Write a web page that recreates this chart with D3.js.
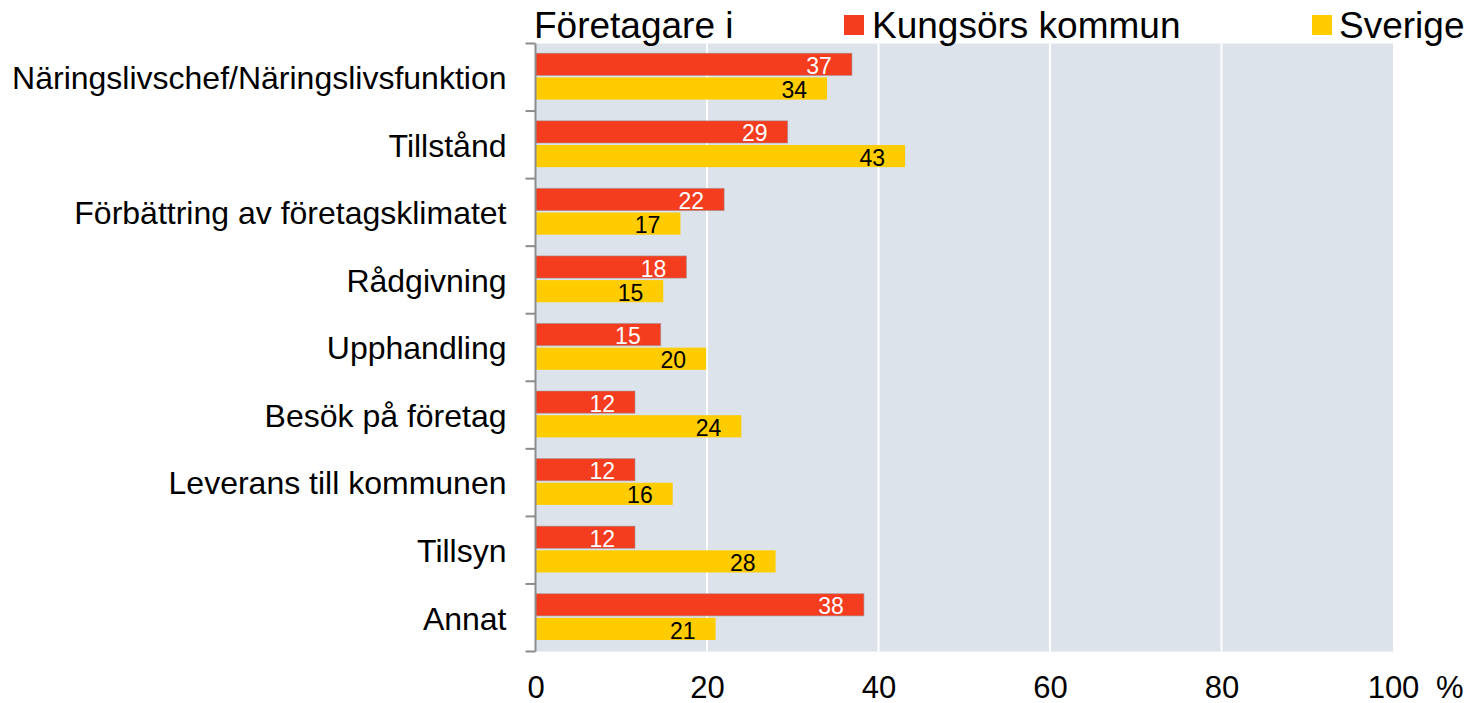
<!DOCTYPE html>
<html>
<head>
<meta charset="utf-8">
<script src="https://cdn.jsdelivr.net/npm/d3@7"></script>
<style>
  html, body { margin: 0; padding: 0; background: #fff; }
  svg { display: block; font-family: "Liberation Sans", Arial, Helvetica, sans-serif; }
</style>
</head>
<body>
<svg id="chart" width="1469" height="703"></svg>
<script>
const categories = [
  "Näringslivschef/Näringslivsfunktion",
  "Tillstånd",
  "Förbättring av företagsklimatet",
  "Rådgivning",
  "Upphandling",
  "Besök på företag",
  "Leverans till kommunen",
  "Tillsyn",
  "Annat"
];
const seriesNames = ["Kungsörs kommun", "Sverige"];
const kungsorValues = [36.9, 29.4, 22.0, 17.6, 14.6, 11.6, 11.6, 11.6, 38.3];
const sverigeValues = [34.0, 43.1, 16.9, 14.9, 19.9, 24.0, 16.0, 28.0, 21.0];
const xTicks = [0, 20, 40, 60, 80, 100];
const legendTitle = "Företagare i";
const unitLabel = "%";

(function () {
const colors = { "Kungsörs kommun": "#f43c1f", "Sverige": "#ffcc00" };
const labelColors = { "Kungsörs kommun": "#ffffff", "Sverige": "#000000" };

const rows = categories.map((c, i) => ({
  category: c,
  values: [
    { series: seriesNames[0], value: kungsorValues[i] },
    { series: seriesNames[1], value: sverigeValues[i] }
  ]
}));

const svg = d3.select("#chart");
const pLeft = 535.5, pRight = 1393, pTop = 43.5, pBottom = 651.5;

const x = d3.scaleLinear().domain([0, 100]).range([pLeft, pRight]);
const y = d3.scaleBand().domain(categories).range([pTop, pBottom]).padding(0);
const ys = d3.scaleBand().domain(seriesNames).range([0, y.bandwidth()])
  .paddingInner(0.083).paddingOuter(0.44).align(0.46);

// plot background
svg.append("rect")
  .attr("x", x(0)).attr("y", pTop)
  .attr("width", x(100) - x(0)).attr("height", pBottom - pTop)
  .attr("fill", "#dce3ea");

// gridlines
svg.append("g").selectAll("line")
  .data(xTicks.filter(t => t > 0 && t < 100))
  .join("line")
  .attr("x1", d => x(d)).attr("x2", d => x(d))
  .attr("y1", pTop).attr("y2", pBottom)
  .attr("stroke", "#ffffff").attr("stroke-width", 2);

// bars
const groups = svg.append("g").selectAll("g")
  .data(rows).join("g")
  .attr("transform", d => `translate(0,${y(d.category)})`);

groups.selectAll("rect")
  .data(d => d.values).join("rect")
  .attr("x", x(0))
  .attr("y", d => ys(d.series))
  .attr("width", d => x(d.value) - x(0))
  .attr("height", ys.bandwidth())
  .attr("fill", d => colors[d.series])
  .attr("stroke", d => d.series === seriesNames[0] ? "rgba(160,140,140,0.55)" : "none")
  .attr("stroke-width", 1);

groups.selectAll("text")
  .data(d => d.values).join("text")
  .attr("x", d => x(d.value) - 20)
  .attr("y", d => ys(d.series) + ys.bandwidth() - 1.5)
  .attr("text-anchor", "end")
  .attr("font-size", 23)
  .attr("fill", d => labelColors[d.series])
  .text(d => Math.round(d.value));

// left axis line and ticks at band boundaries
const boundaries = categories.map(c => y(c)).concat([y.range()[1]]);
const axisG = svg.append("g");
axisG.append("line")
  .attr("x1", x(0)).attr("x2", x(0))
  .attr("y1", pTop).attr("y2", pBottom)
  .attr("stroke", "#8c8c8c").attr("stroke-width", 2);
axisG.selectAll("line.tick")
  .data(boundaries).join("line")
  .attr("class", "tick")
  .attr("x1", x(0) - 10).attr("x2", x(0))
  .attr("y1", d => d).attr("y2", d => d)
  .attr("stroke", "#8c8c8c").attr("stroke-width", 2);

// category labels
svg.append("g").selectAll("text")
  .data(categories).join("text")
  .attr("x", x(0) - 29)
  .attr("y", d => y(d) + y.bandwidth() / 2)
  .attr("dy", "0.37em")
  .attr("text-anchor", "end")
  .attr("font-size", 32)
  .attr("fill", "#000")
  .text(d => d);

// bottom axis
const xAxis = svg.append("g")
  .attr("transform", `translate(0,${pBottom})`)
  .call(d3.axisBottom(x).tickValues(xTicks).tickSize(0).tickFormat(d3.format("d")));
xAxis.select(".domain").remove();
xAxis.selectAll("text")
  .attr("y", 46).attr("dy", 0)
  .attr("font-size", 31)
  .attr("font-family", "Liberation Sans, Arial, sans-serif")
  .attr("fill", "#000");

svg.append("text")
  .attr("x", 1436).attr("y", pBottom + 46)
  .attr("font-size", 31).attr("fill", "#000")
  .text(unitLabel);

// legend
svg.append("text")
  .attr("x", 534).attr("y", 38)
  .attr("font-size", 37).attr("fill", "#000")
  .text(legendTitle);

const legendItems = [
  { name: seriesNames[0], sx: 844, tx: 872 },
  { name: seriesNames[1], sx: 1312, tx: 1339 }
];
const lg = svg.append("g").selectAll("g").data(legendItems).join("g");
lg.append("rect")
  .attr("x", d => d.sx).attr("y", 15)
  .attr("width", 20).attr("height", 20)
  .attr("fill", d => colors[d.name]);
lg.append("text")
  .attr("x", d => d.tx).attr("y", 38)
  .attr("font-size", 37).attr("fill", "#000")
  .text(d => d.name);
})();
</script>
</body>
</html>
